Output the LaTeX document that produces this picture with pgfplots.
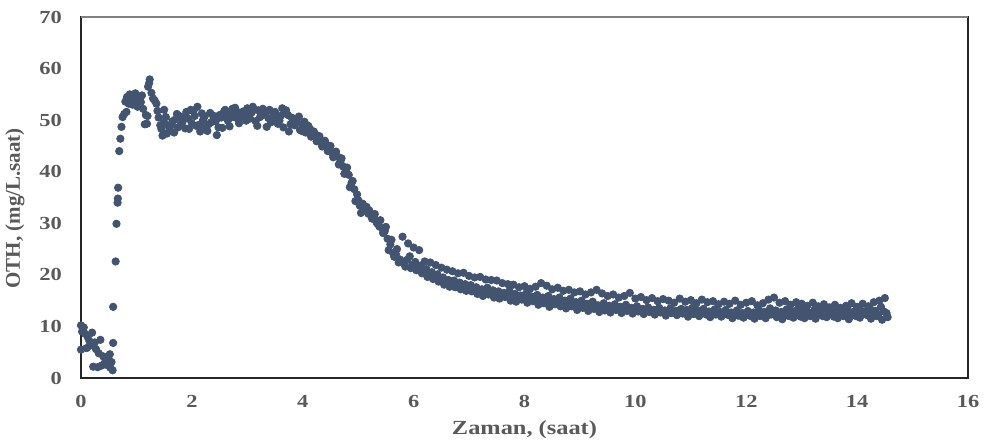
\documentclass[border=0pt]{standalone}
\usepackage{fontspec}
\usepackage{pgfplots}
\usepackage{pgfplotstable}
\pgfplotsset{compat=1.18}
\setmainfont{Liberation Serif}
\newfontfamily\labfont[FakeStretch=1.22]{Liberation Serif}
\definecolor{dotc}{HTML}{42546F}
\definecolor{txtc}{HTML}{595959}

\pgfplotstableread{
t y
0.00 5.5
0.00 10.2
0.02 9.0
0.05 9.8
0.07 8.6
0.10 5.8
0.12 8.0
0.15 7.2
0.17 6.3
0.20 8.8
0.22 2.2
0.25 6.9
0.27 5.6
0.30 2.1
0.32 4.8
0.35 7.4
0.37 2.4
0.40 4.2
0.42 2.8
0.45 3.9
0.47 2.5
0.50 3.5
0.52 4.6
0.53 2.0
0.55 3.1
0.57 1.5
0.58 6.8
0.58 13.8
0.625 22.6
0.64 29.9
0.66 34.0
0.665 34.8
0.67 36.9
0.69 44.0
0.71 46.4
0.73 48.7
0.75 50.6
0.78 51.2
0.82 51.6
0.80 53.6
0.83 54.5
0.86 53.2
0.88 55.0
0.91 54.2
0.93 53.0
0.95 54.6
0.98 55.2
1.00 54.0
1.02 52.6
1.05 54.2
1.08 53.5
1.10 54.8
1.12 52.2
1.15 49.2
1.17 51.0
1.19 49.3
1.20 50.8
1.21 56.5
1.23 57.2
1.24 57.9
1.27 55.3
1.30 54.2
1.33 53.8
1.36 53.2
1.38 51.8
1.40 50.5
1.43 49.0
1.45 48.3
1.47 47.0
1.50 52.0
}\early

\pgfplotstableread{
t y
1.5 49.5
1.6 48.2
1.7 50.1
1.8 49.0
1.9 51.6
2.0 49.4
2.1 52.6
2.2 50.0
2.3 49.2
2.4 50.3
2.5 51.0
2.6 52.0
2.7 51.1
2.8 51.8
2.9 50.6
3.0 52.3
3.1 52.6
3.2 51.9
3.3 51.2
3.4 52.0
3.5 51.6
3.6 50.8
3.7 51.9
3.8 50.5
3.9 49.6
4.0 48.8
4.1 48.9
4.2 47.8
4.3 46.9
4.4 46.0
4.5 45.0
4.6 43.9
4.7 42.6
4.8 40.8
4.9 38.2
5.0 34.5
5.1 33.3
5.2 32.5
5.3 31.8
5.4 30.6
5.5 29.3
5.6 26.8
5.7 25.0
5.8 27.4
5.9 26.1
6.0 25.3
6.1 24.8
6.2 22.6
6.3 22.4
6.4 21.9
6.5 21.4
6.6 21.0
6.7 20.7
6.8 20.3
6.9 20.4
7.0 19.8
7.1 19.5
7.2 19.6
7.3 19.1
7.4 19.0
7.5 18.9
7.6 18.4
7.7 18.2
7.8 18.1
7.9 17.6
8.0 17.8
8.1 17.3
8.2 17.7
8.3 18.4
8.4 17.9
8.5 17.2
8.6 17.5
8.7 16.9
8.8 17.1
8.9 16.6
9.0 16.8
9.1 16.2
9.2 16.6
9.3 17.1
9.4 16.4
9.5 15.9
9.6 16.2
9.7 15.6
9.8 15.9
9.9 16.5
10.0 15.4
10.1 15.7
10.2 15.1
10.3 15.5
10.4 14.9
10.5 15.3
10.6 15.0
10.7 14.6
10.8 15.4
10.9 14.8
11.0 15.1
11.1 14.5
11.2 15.2
11.3 14.7
11.4 14.9
11.5 14.3
11.6 14.8
11.7 14.4
11.8 15.0
11.9 14.2
12.0 14.6
12.1 14.9
12.2 14.1
12.3 14.5
12.4 15.2
12.5 15.6
12.6 14.6
12.7 14.9
12.8 14.2
12.9 14.7
13.0 14.4
13.1 14.0
13.2 14.6
13.3 13.9
13.4 14.3
13.5 13.7
13.6 14.2
13.7 13.6
13.8 14.0
13.9 14.5
14.0 13.8
14.1 14.4
14.2 13.9
14.3 14.7
14.4 15.0
14.5 15.5
}\runA

\pgfplotstableread{
t y
1.55 47.4
1.65 49.8
1.75 48.6
1.85 50.4
1.95 48.3
2.05 50.8
2.15 47.8
2.25 48.7
2.35 49.6
2.45 47.1
2.55 48.5
2.65 49.9
2.75 50.6
2.85 49.4
2.95 51.1
3.05 50.3
3.15 49.8
3.25 50.9
3.35 48.7
3.45 50.0
3.55 49.3
3.65 48.6
3.75 47.8
3.85 49.0
3.95 48.1
4.05 47.6
4.15 46.8
4.25 45.9
4.35 44.9
4.45 44.0
4.55 42.8
4.65 41.4
4.75 39.6
4.85 37.0
4.95 34.3
5.05 32.0
5.15 33.2
5.25 30.9
5.35 29.9
5.45 28.1
5.55 24.8
5.65 23.5
5.75 23.0
5.85 21.6
5.95 21.3
6.05 20.9
6.15 20.3
6.25 19.6
6.35 19.2
6.45 18.7
6.55 18.1
6.65 17.7
6.75 17.6
6.85 17.2
6.95 16.9
7.05 16.8
7.15 16.3
7.25 15.9
7.35 16.2
7.45 15.6
7.55 15.4
7.65 15.7
7.75 15.0
7.85 14.8
7.95 15.2
8.05 14.6
8.15 14.9
8.25 14.2
8.35 14.5
8.45 13.8
8.55 14.3
8.65 13.9
8.75 13.5
8.85 13.9
8.95 13.2
9.05 13.6
9.15 13.0
9.25 13.4
9.35 12.8
9.45 13.1
9.55 12.7
9.65 13.2
9.75 12.6
9.85 13.0
9.95 12.5
10.05 12.9
10.15 12.4
10.25 12.8
10.35 12.3
10.45 12.7
10.55 12.1
10.65 12.6
10.75 12.2
10.85 12.5
10.95 11.9
11.05 12.4
11.15 12.0
11.25 12.6
11.35 11.8
11.45 12.3
11.55 11.9
11.65 12.4
11.75 11.6
11.85 12.1
11.95 11.7
12.05 12.2
12.15 11.5
12.25 12.0
12.35 11.6
12.45 12.3
12.55 11.8
12.65 11.4
12.75 12.1
12.85 11.7
12.95 12.2
13.05 11.6
13.15 12.0
13.25 11.5
13.35 12.3
13.45 11.8
13.55 12.4
13.65 11.6
13.75 12.0
13.85 11.4
13.95 12.2
14.05 11.7
14.15 12.4
14.25 11.5
14.35 12.0
14.45 11.3
14.55 11.8
}\runB

\pgfplotstableread{
t y
1.53 50.6
1.63 49.1
1.73 51.2
1.83 49.7
1.93 50.3
2.03 51.8
2.13 49.1
2.23 50.7
2.33 51.4
2.43 49.8
2.53 50.5
2.63 50.9
2.73 52.2
2.83 50.2
2.93 51.7
3.03 51.0
3.13 52.1
3.23 50.6
3.33 51.5
3.43 49.6
3.53 50.9
3.63 52.3
3.73 51.0
3.83 49.4
3.93 50.7
4.03 49.7
4.13 48.3
4.23 47.2
4.33 45.7
4.43 45.2
4.53 43.6
4.63 42.9
4.73 41.0
4.83 39.4
4.93 36.6
5.03 33.4
5.13 32.6
5.23 31.5
5.33 30.2
5.43 29.0
5.53 27.0
5.63 24.2
5.73 22.4
5.83 22.2
5.93 23.6
6.03 22.5
6.13 21.8
6.23 21.1
6.33 20.5
6.43 20.1
6.53 19.5
6.63 19.0
6.73 18.9
6.83 18.5
6.93 18.2
7.03 18.0
7.13 17.6
7.23 17.2
7.33 17.5
7.43 17.0
7.53 16.8
7.63 16.5
7.73 16.9
7.83 16.3
7.93 16.0
8.03 16.4
8.13 15.8
8.23 16.1
8.33 15.6
8.43 15.9
8.53 15.3
8.63 15.6
8.73 15.0
8.83 15.4
8.93 14.7
9.03 15.0
9.13 14.4
9.23 14.8
9.33 14.1
9.43 14.5
9.53 14.0
9.63 14.3
9.73 13.8
9.83 14.2
9.93 13.6
10.03 13.9
10.13 13.4
10.23 13.7
10.33 13.2
10.43 13.6
10.53 13.1
10.63 13.5
10.73 13.0
10.83 13.4
10.93 13.2
11.03 13.6
11.13 13.1
11.23 13.4
11.33 12.9
11.43 13.3
11.53 12.8
11.63 13.2
11.73 12.7
11.83 13.1
11.93 12.6
12.03 13.0
12.13 12.7
12.23 13.2
12.33 12.8
12.43 13.5
12.53 13.1
12.63 12.8
12.73 13.3
12.83 12.9
12.93 13.4
13.03 13.0
13.13 12.7
13.23 13.2
13.33 12.9
13.43 13.4
13.53 12.8
13.63 13.1
13.73 12.6
13.83 13.2
13.93 12.8
14.03 13.3
14.13 12.9
14.23 13.5
14.33 13.0
14.43 13.8
14.53 12.6
}\runC

\pgfplotstableread{
t y
1.58 48.9
1.68 47.6
1.78 50.8
1.88 48.4
1.98 52.0
2.08 48.9
2.18 51.3
2.28 47.9
2.38 50.9
2.48 48.6
2.58 51.7
2.68 48.8
2.78 52.4
2.88 51.3
2.98 49.9
3.08 51.5
3.18 48.9
3.28 52.2
3.38 50.4
3.48 51.2
3.58 49.9
3.68 51.4
3.78 49.2
3.88 50.2
3.98 47.9
4.08 48.2
4.18 47.1
4.28 46.4
4.38 45.6
4.48 44.5
4.58 43.2
4.68 41.9
4.78 40.2
4.88 37.8
4.98 35.6
5.08 33.8
5.18 31.9
5.28 31.2
5.38 29.4
5.48 28.5
5.58 25.9
5.68 24.0
5.78 22.7
5.88 22.9
5.98 22.0
6.08 21.5
6.18 21.0
6.28 20.2
6.38 19.8
6.48 19.4
6.58 18.8
6.68 18.5
6.78 18.1
6.88 17.9
6.98 17.5
7.08 17.3
7.18 16.9
7.28 17.0
7.38 16.6
7.48 16.4
7.58 16.1
7.68 16.0
7.78 15.7
7.88 15.9
7.98 15.4
8.08 15.7
8.18 15.2
8.28 15.5
8.38 15.0
8.48 14.8
8.58 14.9
8.68 14.4
8.78 14.6
8.88 14.1
8.98 14.3
9.08 13.9
9.18 14.2
9.28 13.7
9.38 14.0
9.48 13.5
9.58 13.8
9.68 13.4
9.78 13.7
9.88 13.2
9.98 13.5
10.08 13.0
10.18 13.3
10.28 12.9
10.38 13.2
10.48 12.8
10.58 13.0
10.68 12.7
10.78 13.1
10.88 12.6
10.98 12.9
11.08 12.5
11.18 12.8
11.28 12.3
11.38 12.7
11.48 12.4
11.58 12.6
11.68 12.2
11.78 12.5
11.88 12.1
11.98 12.4
12.08 12.0
12.18 12.3
12.28 12.6
12.38 12.2
12.48 12.5
12.58 12.1
12.68 12.4
12.78 12.0
12.88 12.3
12.98 11.9
13.08 12.4
13.18 12.1
13.28 12.5
13.38 12.0
13.48 12.3
13.58 11.9
13.68 12.5
13.78 12.2
13.88 12.6
13.98 12.0
14.08 12.5
14.18 12.2
14.28 12.7
14.38 12.3
14.48 12.9
}\runD

\begin{document}
\begin{tikzpicture}
\useasboundingbox (-40.5pt,-33pt) rectangle (454.5pt,189pt);
\begin{axis}[
  at={(0,0)}, anchor=south west,
  scale only axis,
  width=443.5pt, height=180.5pt,
  xmin=0, xmax=16, ymin=0, ymax=70,
  xtick={0,2,...,16}, ytick={0,10,...,70},
  major tick length=0pt,
  axis line style={draw=black!85, line width=0.7pt},
  /pgf/number format/assume math mode=true,
  tick label style={font=\labfont\bfseries\fontsize{9.2}{10}\selectfont, text=txtc},
  xticklabel style={yshift=-5pt},
  yticklabel style={xshift=-6pt},
  xlabel={Zaman, (saat)},
  ylabel={OTH, (mg/L.saat)},
  xlabel style={font=\labfont\bfseries\fontsize{10}{12}\selectfont, text=txtc,
    at={(rel axis cs:0.5,0)}, anchor=center, yshift=-26pt},
  ylabel style={font=\bfseries\fontsize{10.5}{12}\selectfont, text=txtc,
    at={(rel axis cs:0,0.47)}, anchor=center, yshift=33pt},
  clip=false,
  every mark/.append style={line width=0.3pt},
]
\addplot[only marks, mark=*, mark size=1.85pt, draw=dotc, fill=dotc] table[x=t,y=y] {\early};
\addplot[only marks, mark=*, mark size=1.85pt, draw=dotc, fill=dotc] table[x=t,y=y] {\runA};
\addplot[only marks, mark=*, mark size=1.85pt, draw=dotc, fill=dotc] table[x=t,y=y] {\runB};
\addplot[only marks, mark=*, mark size=1.85pt, draw=dotc, fill=dotc] table[x=t,y=y] {\runC};
\addplot[only marks, mark=*, mark size=1.85pt, draw=dotc, fill=dotc] table[x=t,y=y] {\runD};
\draw[black!50, line width=0.7pt] (rel axis cs:0,1) -- (rel axis cs:1,1);
\end{axis}
\end{tikzpicture}
\end{document}
